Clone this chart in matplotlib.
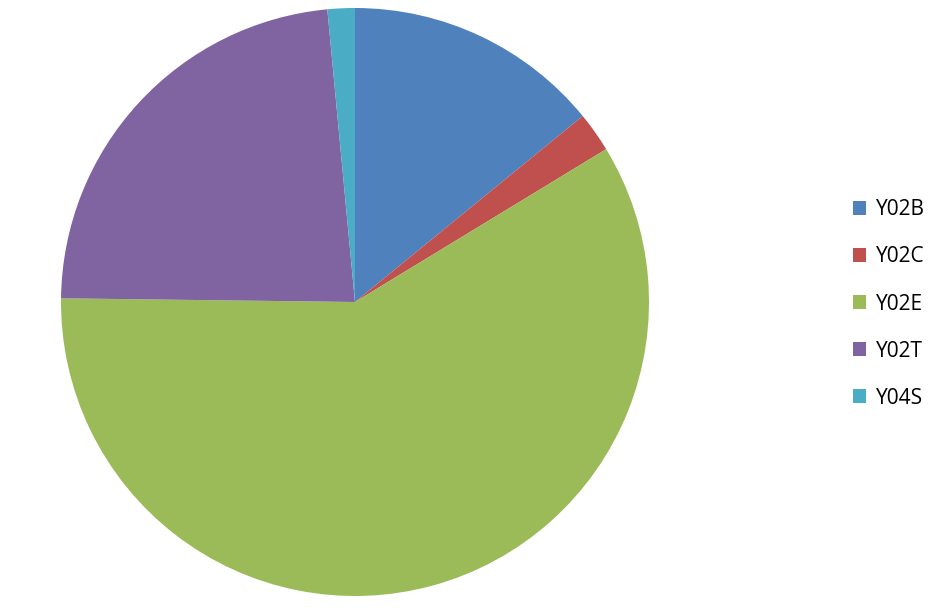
import matplotlib
matplotlib.use('Agg')
import matplotlib.pyplot as plt

# DATA
labels = ['Y02B', 'Y02C', 'Y02E', 'Y02T', 'Y04S']
shares = [14.1, 2.2, 58.9, 23.3, 1.5]
colors = ['#4F81BD', '#C0504D', '#9BBB59', '#8064A2', '#4BACC6']

W, H = 942, 615
fig = plt.figure(figsize=(W / 100, H / 100), dpi=100)

# pie axes placed in pixel coords: centre (355, 302), radius 294
cx, cy, r = 355, 302, 294
ax = fig.add_axes([(cx - r) / W, (H - cy - r) / H, 2 * r / W, 2 * r / H])
wedges, _ = ax.pie(shares, colors=colors, startangle=90, counterclock=False,
                   radius=1, wedgeprops=dict(linewidth=0))
ax.set_xlim(-1, 1)
ax.set_ylim(-1, 1)
ax.set_aspect('equal')
ax.axis('off')

leg = fig.legend(wedges, labels, loc='center left',
                 bbox_to_anchor=(834 / W, 1 - 304 / H),
                 frameon=False, prop={'family': 'Open Sans', 'size': 15},
                 handlelength=0.65, handleheight=0.65, handletextpad=0.45,
                 labelspacing=1.25)

fig.savefig('out.png', dpi=100)
